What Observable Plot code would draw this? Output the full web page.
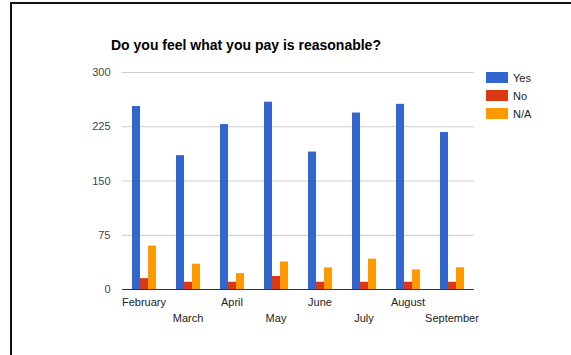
<!DOCTYPE html>
<html>
<head>
<meta charset="utf-8">
<script src="https://cdn.jsdelivr.net/npm/d3@7"></script>
<script src="https://cdn.jsdelivr.net/npm/@observablehq/plot@0.6"></script>
<style>
  html, body { margin: 0; padding: 0; background: #fff; }
  #wrap { position: relative; width: 571px; height: 355px; overflow: hidden; font-family: "Liberation Sans", Arial, sans-serif; }
  #border { position: absolute; left: 10px; top: 2px; width: 580px; height: 400px; border-top: 2px solid #111; border-left: 2px solid #111; }
  #title { position: absolute; left: 111px; top: 37px; font-size: 14px; font-weight: bold; color: #000; line-height: 16px; white-space: nowrap; }
  .layer { position: absolute; left: 0; top: 0; }
  #legend { position: absolute; left: 486px; top: 72px; font-size: 11px; color: #222; }
  .item { display: flex; align-items: center; height: 11px; margin-bottom: 7px; }
  .sw { width: 22px; height: 11px; margin-right: 5px; }
</style>
</head>
<body>
<div id="wrap">
  <div id="border"></div>
  <div id="title"></div>
  <div id="grid" class="layer"></div>
  <div id="bars" class="layer"></div>
  <div id="base" class="layer"></div>
  <div id="legend"></div>
</div>
<script>
const titleText = "Do you feel what you pay is reasonable?";
const months = ["February", "March", "April", "May", "June", "July", "August", "September"];
const seriesNames = ["Yes", "No", "N/A"];
const seriesColors = ["#3366cc", "#dc3912", "#ff9900"];
const yesValues = [253, 185, 228, 259, 190, 244, 256, 217];
const noValues = [15, 10, 10, 18, 10, 10, 10, 10];
const naValues = [60, 35, 22, 38, 30, 42, 27, 30];
const yTicks = [0, 75, 150, 225, 300];

const seriesValues = [yesValues, noValues, naValues];
const table = months.flatMap((m, i) => seriesNames.map((s, j) => ({month: m, series: s, value: seriesValues[j][i]})));
const upperMonths = months.filter((_, i) => i % 2 === 0);
const lowerMonths = months.filter((_, i) => i % 2 === 1);

document.getElementById("title").textContent = titleText;

const common = {
  width: 571,
  height: 355,
  marginLeft: 122,
  marginRight: 97,
  marginTop: 72,
  marginBottom: 66,
  style: {fontFamily: "Liberation Sans, Arial, sans-serif", fontSize: "11px", background: "transparent", overflow: "visible"},
  y: {domain: [0, 300], axis: null}
};

const gridChart = Plot.plot({
  ...common,
  marks: [
    Plot.ruleY(yTicks.filter(d => d > 0), {y: d => d, stroke: "#cccccc", strokeWidth: 1}),
    Plot.text(yTicks, {y: d => d, text: d => String(d), frameAnchor: "left", textAnchor: "end", dx: -12, fill: "#444", fontSize: 11})
  ]
});
document.getElementById("grid").appendChild(gridChart);

const barChart = Plot.plot({
  ...common,
  fx: {domain: months, paddingInner: 0.43, paddingOuter: 0.21, axis: null},
  x: {domain: seriesNames, padding: 0.06, axis: null},
  color: {domain: seriesNames, range: seriesColors},
  marks: [
    Plot.barY(table, {fx: "month", x: "series", y: "value", fill: "series"}),
    Plot.text(upperMonths, {fx: d => d, text: d => d, frameAnchor: "bottom", dy: 13, lineAnchor: "middle", fill: "#222", fontSize: 11}),
    Plot.text(lowerMonths, {fx: d => d, text: d => d, frameAnchor: "bottom", dy: 29, lineAnchor: "middle", fill: "#222", fontSize: 11})
  ]
});
document.getElementById("bars").appendChild(barChart);

const baseChart = Plot.plot({
  ...common,
  marks: [
    Plot.ruleY([0], {stroke: "#333", strokeWidth: 1})
  ]
});
document.getElementById("base").appendChild(baseChart);

const legend = document.getElementById("legend");
seriesNames.forEach((s, i) => {
  const item = document.createElement("div");
  item.className = "item";
  const sw = document.createElement("div");
  sw.className = "sw";
  sw.style.background = seriesColors[i];
  const label = document.createElement("span");
  label.textContent = s;
  item.appendChild(sw);
  item.appendChild(label);
  legend.appendChild(item);
});
</script>
</body>
</html>
